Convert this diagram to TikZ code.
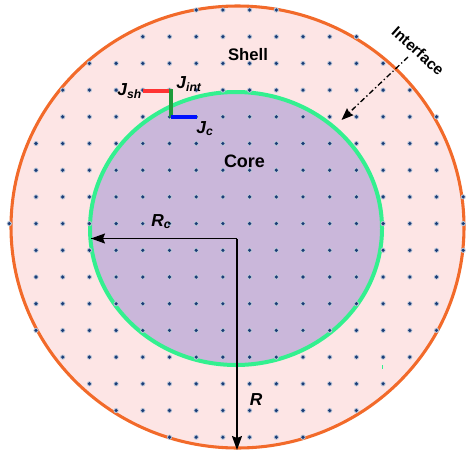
\documentclass[tikz,border=0pt]{standalone}
\usepackage{fontspec}
\setmainfont{Liberation Sans}
\usetikzlibrary{arrows.meta}
\definecolor{shellfill}{HTML}{FDE5E5}
\definecolor{corefill}{HTML}{CAB7DA}
\definecolor{outerline}{HTML}{F26A2A}
\definecolor{innerline}{HTML}{33F08F}
\definecolor{dotc}{HTML}{1B3D78}
\definecolor{jred}{HTML}{FF3333}
\definecolor{jgreen}{HTML}{1E9A3A}
\definecolor{jblue}{HTML}{0010FF}
\newcommand\jlab[2]{\textbf{\textit{#1}}\textsubscript{\textbf{\textit{#2}}}}
\begin{document}
\begin{tikzpicture}[x=0.75pt,y=-0.75pt,
  radarrow/.style={black,line width=1pt,-{Stealth[length=10.5pt,width=7.5pt,inset=1.5pt]}},
  ifarrow/.style={black,line width=1pt,dash pattern=on 4pt off 2pt on 1pt off 2pt,-{Stealth[length=9pt,width=7pt,inset=1pt]}},
  vec/.style={line width=3pt},
  biglab/.style={font=\fontsize{13.5}{16}\selectfont\bfseries},
  symlab/.style={font=\fontsize{13}{15}\selectfont,anchor=base west,inner sep=0pt}]
\useasboundingbox (0,0) rectangle (466,453);
% shell and core
\fill[shellfill] (237.5,227) ellipse [x radius=226.5, y radius=221];
\fill[corefill] (236,228.5) ellipse [x radius=146, y radius=136.5];
\draw[outerline,line width=2.3pt] (237.5,227) ellipse [x radius=226.5, y radius=221];
\draw[innerline,line width=3pt] (236,228.5) ellipse [x radius=146, y radius=136.5];
\draw[innerline,line width=0.8pt] (382.3,365) -- (382.3,368.5);
% dots
\foreach \i in {0,...,17} {
  \foreach \j in {0,...,16} {
    \pgfmathsetmacro\px{9.3+26.7*\i}
    \pgfmathsetmacro\py{10+26.7*\j}
    \pgfmathparse{((\px-237.5)/229)^2+((\py-227)/224)^2<1 ? 1 : 0}
    \ifdim\pgfmathresult pt>0.5pt
      \fill[dotc!30!white] (\px,\py) circle[radius=2.6];
      \fill[dotc] (\px,\py) circle[radius=1.8];
    \fi
  }
}
% radii
\coordinate (O) at (237,238.5);
\coordinate (Rc) at (91,238.5);
\coordinate (Rb) at (237,450);
\draw[black,line width=1pt] (Rc) -- (O);
\draw[radarrow] (O) -- (Rc);
\draw[radarrow] (O) -- (Rb);
\node[symlab] (rclab) at (151,226.5) {\jlab{R}{c}};
\node[symlab] (rlab) at (249.5,405) {\textbf{\textit{R}}};
% labels
\node[biglab] (core) at (244.5,161.7) {Core};
\node[biglab,font=\fontsize{12.5}{15}\selectfont\bfseries] (shell) at (248,55) {Shell};
% interface
\node[font=\fontsize{11.5}{13}\selectfont\bfseries,rotate=-42,inner sep=0pt] (iface) at (418,51) {Interface};
\coordinate (ia) at (408,57);
\coordinate (ib) at (341.5,120);
\draw[ifarrow] (ia) -- (ib);
% flux vectors
\coordinate (p1) at (143.3,91);
\coordinate (p2) at (170.7,91);
\coordinate (p3) at (170.7,117.3);
\coordinate (p4) at (196.7,117.3);
\draw[vec,jred] (p1) -- (p2);
\draw[vec,jgreen] ([yshift=1.5]p2) -- (p3);
\draw[vec,jblue] (p3) -- (p4);
\node[symlab] (jsh) at (117,95) {\jlab{J}{sh}};
\node[symlab] (jint) at (176,88) {\jlab{J}{int}};
\node[symlab] (jc) at (196,133) {\jlab{J}{c}};
\end{tikzpicture}
\end{document}
